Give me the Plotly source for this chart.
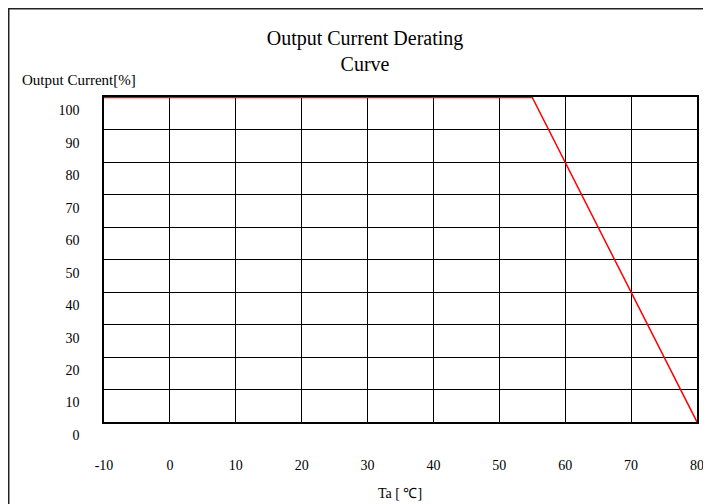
import plotly.graph_objects as go

# Data
temps = [-10, 55, 80]
current_pct = [100, 100, 0]
x_ticks = [-10, 0, 10, 20, 30, 40, 50, 60, 70, 80]
y_ticks = [0, 10, 20, 30, 40, 50, 60, 70, 80, 90, 100]

FONT = "Liberation Serif, Times New Roman, serif"

fig = go.Figure()
fig.add_trace(go.Scatter(x=temps, y=current_pct, mode="lines",
                         line=dict(color="#ff0000", width=1.5),
                         showlegend=False, hoverinfo="skip"))

W, H = 711, 504
L, R, T, B = 96, 22, 89, 90
pw, ph = W - L - R, H - T - B

fig.update_layout(
    width=W, height=H,
    margin=dict(l=L, r=R, t=T, b=B),
    paper_bgcolor="white", plot_bgcolor="white",
    font=dict(family=FONT, size=14, color="#000"),
    title=dict(text="Output Current Derating<br>Curve", x=357 / W, xanchor="center",
               y=1 - 37 / H, yanchor="top",
               font=dict(family=FONT, size=20, color="#000")),
    xaxis=dict(range=[-10, 80], tickvals=x_ticks, ticktext=[str(v) for v in x_ticks],
               showgrid=True, gridcolor="#000", gridwidth=1,
               showline=True, linecolor="#000", linewidth=1.5, mirror=True,
               zeroline=False, ticks="", ticklabelstandoff=29, layer="below traces",
               tickfont=dict(family=FONT, size=14, color="#000")),
    yaxis=dict(range=[0, 100.15], tickvals=y_ticks, ticktext=[str(v) for v in y_ticks],
               showgrid=True, gridcolor="#000", gridwidth=1,
               showline=True, linecolor="#000", linewidth=1.5, mirror=True,
               zeroline=False, ticks="", ticklabelstandoff=20, ticklabelshift=13,
               layer="below traces",
               tickfont=dict(family=FONT, size=14, color="#000")),
    annotations=[
        dict(text="Output Current[%]", xref="paper", yref="paper",
             x=(12 - L) / pw, y=(H - B - 72) / ph, xanchor="left", yanchor="middle",
             showarrow=False, font=dict(family=FONT, size=15, color="#000")),
        dict(text="Ta [ ℃]", xref="paper", yref="paper",
             x=(392 - L) / pw, y=(H - B - 485) / ph, xanchor="center", yanchor="middle",
             showarrow=False, font=dict(family=FONT, size=14, color="#000")),
    ],
    shapes=[
        dict(type="rect", xref="paper", yref="paper",
             x0=(0.75 - L) / pw, x1=(W - 0.75 - L) / pw,
             y0=(H - B - (H - 0.75)) / ph, y1=(H - B - 0.75) / ph,
             line=dict(color="#222", width=1.5), fillcolor="rgba(0,0,0,0)", layer="below"),
    ],
)

fig.write_html("out.html")
